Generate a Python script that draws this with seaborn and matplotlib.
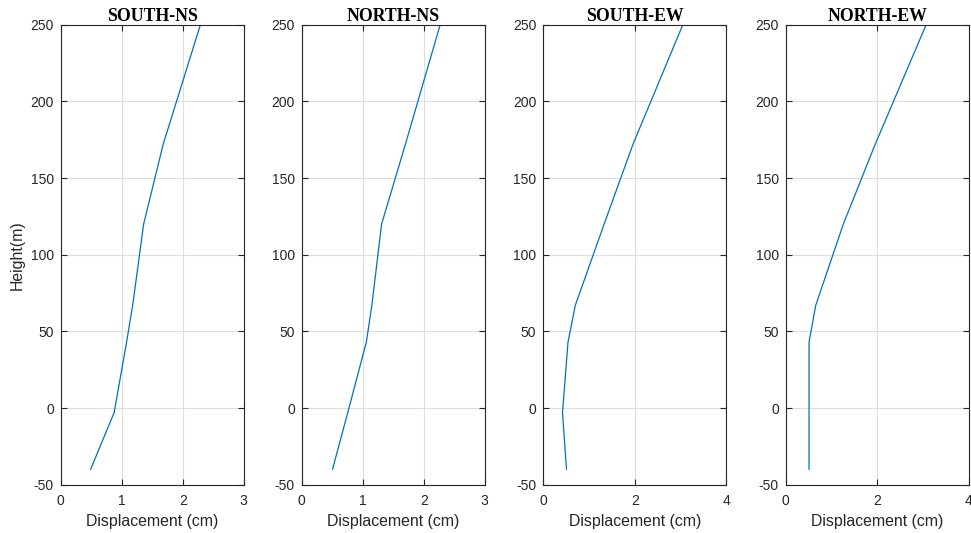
import numpy as np
import pandas as pd
import matplotlib
matplotlib.use("Agg")
import matplotlib.pyplot as plt
import seaborn as sns

heights = [-40, -3, 43, 67, 120, 172, 250]
south_ns = [0.49, 0.876, 1.08, 1.18, 1.36, 1.68, 2.29]
north_ns = [0.505, 0.755, 1.06, 1.15, 1.31, 1.70, 2.27]
south_ew = [0.507, 0.42, 0.54, 0.70, 1.33, 1.96, 3.05]
north_ew = [0.51, 0.51, 0.51, 0.657, 1.26, 1.956, 3.07]

titles = ["SOUTH-NS", "NORTH-NS", "SOUTH-EW", "NORTH-EW"]
series = [south_ns, north_ns, south_ew, north_ew]
xmax = [3, 3, 4, 4]
xticks = [[0, 1, 2, 3], [0, 1, 2, 3], [0, 2, 4], [0, 2, 4]]
yticks = [-50, 0, 50, 100, 150, 200, 250]

sns.set_theme(style="whitegrid")
plt.rcParams["font.family"] = ["Liberation Sans", "DejaVu Sans"]
plt.rcParams["axes.unicode_minus"] = False

W, H = 971, 533
fig = plt.figure(figsize=(W / 100, H / 100), dpi=100)
lefts = [60.7, 301.7, 543.3, 785.7]
width = 183.0
top, bottom = 24.7, 484.7

for i in range(4):
    ax = fig.add_axes([lefts[i] / W, 1 - bottom / H, width / W, (bottom - top) / H])
    df = pd.DataFrame({"disp": series[i], "height": heights})
    sns.lineplot(data=df, x="disp", y="height", sort=False, estimator=None,
                 color="#0072BD", linewidth=0.9, ax=ax)
    ax.set_xlim(0, xmax[i])
    ax.set_ylim(-50, 250)
    ax.set_xticks(xticks[i])
    ax.set_yticks(yticks)
    ax.set_facecolor("white")
    ax.grid(True, color="#dedede", linewidth=0.8)
    for s in ax.spines.values():
        s.set_color("#262626")
        s.set_linewidth(0.8)
        s.set_visible(True)
    ax.tick_params(direction="in", length=4, width=0.8, color="#262626",
                   labelsize=10, labelcolor="#262626", top=True, right=True,
                   bottom=True, left=True)
    ax.tick_params(axis="x", pad=7)
    ax.tick_params(axis="y", pad=5)
    ax.set_title(titles[i], fontfamily=["Liberation Serif", "DejaVu Serif"],
                 fontweight="bold", fontsize=12.8, color="black", pad=3)
    ax.set_xlabel("Displacement (cm)", fontsize=11.4, color="#262626", labelpad=4)
    if i == 0:
        ax.set_ylabel("Height(m)", fontsize=11.4, color="#262626", labelpad=4)
    else:
        ax.set_ylabel("")

fig.savefig("out.png", dpi=100, facecolor="white")
